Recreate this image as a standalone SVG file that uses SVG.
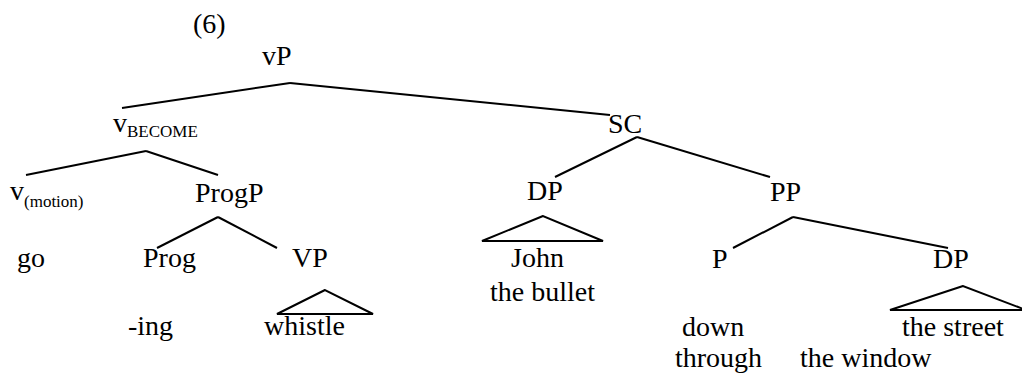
<svg xmlns="http://www.w3.org/2000/svg" width="1022" height="374" viewBox="0 0 1022 374">
<style>
.t{font-family:'Liberation Serif','Times New Roman',serif;font-size:28px;fill:#000}
.sub{font-size:17px}
.e line,.e polygon{stroke:#000;stroke-width:2;fill:none}
</style>
<rect width="1022" height="374" fill="#fff"/>
<g class="e" id="connectors">
<line x1="122" y1="108" x2="290" y2="83"/>
<line x1="290" y1="83" x2="610" y2="115"/>
<line x1="26" y1="175" x2="146" y2="151"/>
<line x1="146" y1="151" x2="218" y2="175"/>
<line x1="157" y1="248" x2="218" y2="217"/>
<line x1="218" y1="217" x2="277" y2="248"/>
<line x1="555" y1="177" x2="637" y2="137"/>
<line x1="637" y1="137" x2="770" y2="177"/>
<line x1="733" y1="248" x2="793" y2="217"/>
<line x1="793" y1="217" x2="948" y2="248"/>
<polygon points="325,290 277,314 373,314"/>
<polygon points="543,216 482,241 603,241"/>
<polygon points="963,286 890,310 1026,310"/>
</g>
<g class="t">
<g id="label6"><text x="193" y="33">(6)</text></g>
<g id="vP"><text x="262" y="65">vP</text></g>
<g id="vBECOME"><text x="113" y="132">v<tspan class="sub" dy="5">BECOME</tspan></text></g>
<g id="vmotion"><text x="10" y="200">v<tspan class="sub" dy="7">(motion)</tspan></text></g>
<g id="ProgP"><text x="195" y="202">ProgP</text></g>
<g id="go"><text x="17" y="267">go</text></g>
<g id="Prog"><text x="143" y="267">Prog</text></g>
<g id="VP"><text x="292" y="267">VP</text></g>
<g id="ing"><text x="128" y="335">-ing</text></g>
<g id="whistle"><text x="264" y="335">whistle</text></g>
<g id="SC"><text x="608" y="133">SC</text></g>
<g id="DP1"><text x="527" y="200">DP</text></g>
<g id="John"><text x="511" y="267">John</text></g>
<g id="bullet"><text x="490" y="301">the bullet</text></g>
<g id="PP"><text x="770" y="201">PP</text></g>
<g id="P"><text x="712" y="268">P</text></g>
<g id="DP2"><text x="933" y="268">DP</text></g>
<g id="down"><text x="682" y="336">down</text></g>
<g id="street"><text x="902" y="336">the street</text></g>
<g id="through"><text x="675" y="367">through</text></g>
<g id="window"><text x="800" y="367">the window</text></g>
</g>
</svg>
